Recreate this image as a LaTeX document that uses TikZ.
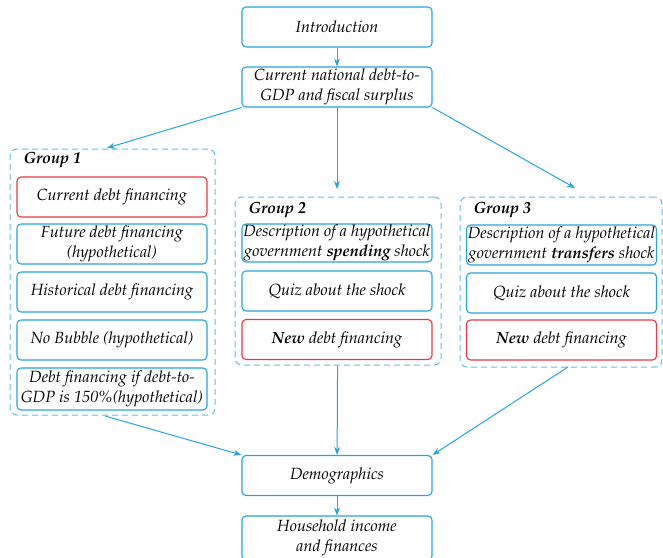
\documentclass[tikz,border=0pt]{standalone}
\usepackage[T1]{fontenc}
\usepackage{mathpazo}
\usetikzlibrary{arrows.meta}

\definecolor{boxblue}{RGB}{35,165,220}
\definecolor{grpblue}{RGB}{95,190,230}
\definecolor{boxred}{RGB}{235,55,65}

\tikzset{
    stage/.style={draw=boxblue, line width=1.1pt, rounded corners=4pt, minimum width=190pt, minimum height=40pt, align=center, inner sep=1pt, font=\fontsize{16.2}{19.5}\selectfont\itshape},
    keystage/.style={stage, draw=boxred},
    grp/.style={draw=grpblue, line width=1pt, dashed, dash pattern=on 6pt off 4pt, rounded corners=7pt},
    grplabel/.style={anchor=west, font=\fontsize{16.2}{19.5}\selectfont\bfseries\itshape},
    flow/.style={draw=boxblue, line width=1pt, -{Stealth[length=8pt, width=6pt]}}
}

\begin{document}
\begin{tikzpicture}[x=1pt, y=-1pt]
    \useasboundingbox (0, 0) rectangle (663, 557);

    \node[stage] (intro) at (337, 27) {Introduction};
    \node[stage] (current) at (337, 87) {Current national debt-to-\\GDP and fiscal surplus};

    % group 1
    \node[grp, minimum width=205pt, minimum height=266pt] (g1) at (112.5, 282) {};
    \node[grplabel] (g1label) at (20, 160) {Group 1};
    \node[keystage] (curdebt) at (112, 197) {Current debt financing};
    \node[stage] (futdebt) at (112, 244) {Future debt financing\\(hypothetical)};
    \node[stage] (histdebt) at (112, 292) {Historical debt financing};
    \node[stage] (nobubble) at (112, 340) {No Bubble (hypothetical)};
    \node[stage, minimum height=42pt] (highdebt) at (112, 389) {Debt financing if debt-to-\\GDP is 150\%(hypothetical)};

    % group 2
    \node[grp, minimum width=206pt, minimum height=168pt] (g2) at (338, 281) {};
    \node[grplabel] (g2label) at (245, 210) {Group 2};
    \node[stage, minimum height=38pt] (spenddesc) at (337, 243) {Description of a hypothetical\\government \textbf{spending} shock};
    \node[stage] (spendquiz) at (337, 291) {Quiz about the shock};
    \node[keystage] (spendnew) at (337, 339.5) {\textbf{New} debt financing};

    % group 3
    \node[grp, minimum width=202pt, minimum height=170pt] (g3) at (561, 282) {};
    \node[grplabel] (g3label) at (470, 210) {Group 3};
    \node[stage] (transdesc) at (561.5, 245) {Description of a hypothetical\\government \textbf{transfers} shock};
    \node[stage] (transquiz) at (561.5, 293) {Quiz about the shock};
    \node[keystage] (transnew) at (561.5, 340) {\textbf{New} debt financing};

    \node[stage] (demo) at (337, 475.5) {Demographics};
    \node[stage, minimum height=44pt] (income) at (337, 538) {Household income\\and finances};

    \coordinate (g1in) at (107, 148);
    \coordinate (g2in) at (337, 189);
    \coordinate (g3in) at (575, 188);
    \coordinate (g1out) at (105, 416);
    \coordinate (g3out) at (568, 367);

    \draw[flow] (intro) -- (current);
    \draw[flow] (current.south west) -- (g1in);
    \draw[flow] (current) -- (g2in);
    \draw[flow] (current.south east) -- (g3in);
    \draw[flow] (g1out) -- (demo.north west);
    \draw[flow] (g2) -- (demo);
    \draw[flow] (g3out) -- (demo.north east);
    \draw[flow] (demo) -- (income);
\end{tikzpicture}
\end{document}
